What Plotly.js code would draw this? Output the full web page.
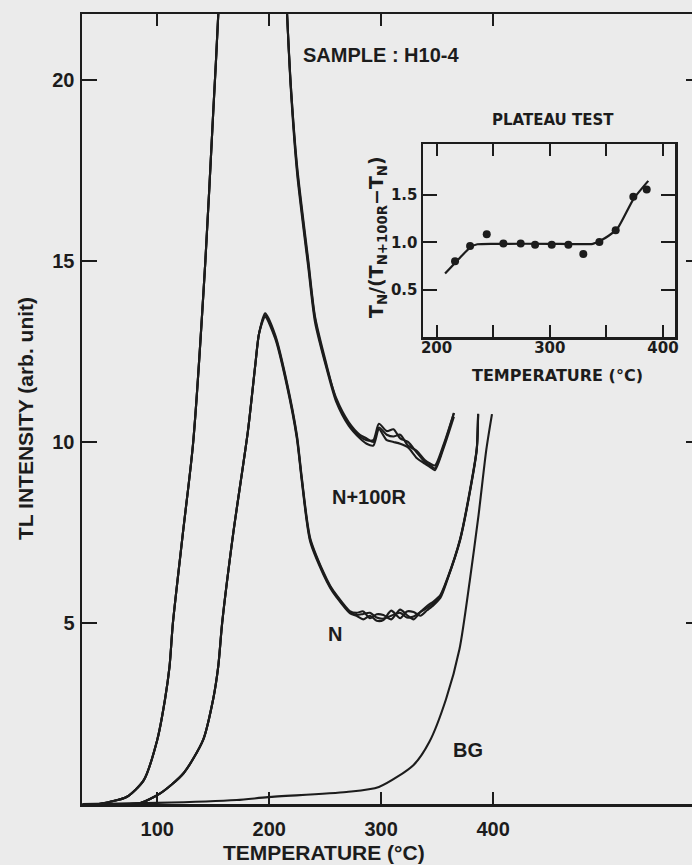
<!DOCTYPE html>
<html>
<head>
<meta charset="utf-8">
<script src="https://cdn.plot.ly/plotly-3.0.1.min.js"></script>
<style>
html,body{margin:0;padding:0;overflow:hidden;background:#ebebeb;}
#chart{width:720px;height:865px;}
</style>
</head>
<body>
<div id="chart"></div>
<script>
// ---------- main glow curves (temperature in °C, TL intensity arb. unit) ----------
const tempNR = [48, 58, 73, 88, 100, 107, 111, 114, 123, 132, 143, 150, 154.5, 160, 170, 185, 200, 210, 216, 219, 225, 235, 241, 251.5, 260, 271, 281, 287, 293, 298, 305, 311, 317, 324, 332, 339, 344, 348, 356, 365];
const intNR_1 = [0, 0.06, 0.2, 0.66, 1.77, 2.9, 3.8, 5.0, 7.5, 9.95, 15.0, 19.1, 21.8, 27, 33, 36, 32, 26, 21.8, 20.0, 17.6, 15.0, 13.45, 12.1, 11.15, 10.5, 10.15, 10.05, 10.05, 10.5, 10.3, 10.35, 10.1, 10.0, 9.7, 9.45, 9.35, 9.27, 9.9, 10.8];
const intNR_2 = [0, 0.06, 0.2, 0.66, 1.77, 2.9, 3.8, 5.0, 7.5, 9.95, 15.0, 19.1, 21.8, 27, 33, 36, 32, 26, 21.8, 19.9, 17.4, 14.8, 13.3, 12.0, 11.1, 10.45, 10.1, 9.95, 9.9, 10.35, 10.05, 10.0, 9.95, 9.85, 9.55, 9.4, 9.3, 9.22, 9.85, 10.7];
const intNR_3 = [0, 0.06, 0.2, 0.66, 1.77, 2.9, 3.8, 5.0, 7.5, 9.95, 15.0, 19.1, 21.8, 27, 33, 36, 32, 26, 21.8, 20.0, 17.5, 14.9, 13.4, 12.05, 11.2, 10.55, 10.2, 10.1, 10.0, 10.4, 10.2, 10.15, 10.2, 9.9, 9.75, 9.5, 9.4, 9.35, 9.95, 10.8];

const tempN = [70, 85, 103, 123.5, 141, 150, 154.5, 158, 168, 181, 187.5, 191, 196.4, 205.4, 215.8, 224.7, 229.2, 236.6, 248.5, 254.5, 260.4, 272, 278, 284, 290, 296, 302, 309, 317, 323, 329, 335, 341, 347, 353, 359, 370.5, 379.5, 385.4, 386.6];
const intN_1 = [0, 0.03, 0.3, 0.85, 1.77, 2.9, 3.8, 5.0, 7.5, 10.3, 12.1, 13.0, 13.5, 12.9, 11.6, 10.15, 8.95, 7.3, 6.37, 6.0, 5.73, 5.3, 5.22, 5.25, 5.28, 5.15, 5.12, 5.2, 5.28, 5.15, 5.18, 5.3, 5.42, 5.55, 5.75, 6.2, 7.3, 8.67, 9.8, 10.77];
const intN_2 = [0, 0.03, 0.3, 0.85, 1.77, 2.9, 3.8, 5.0, 7.5, 10.3, 12.1, 13.0, 13.45, 12.85, 11.55, 10.1, 8.9, 7.25, 6.33, 5.97, 5.7, 5.27, 5.2, 5.1, 5.2, 5.06, 5.08, 5.34, 5.13, 5.32, 5.3, 5.2, 5.35, 5.5, 5.7, 6.18, 7.28, 8.65, 9.78, 10.75];
const intN_3 = [0, 0.03, 0.3, 0.85, 1.77, 2.9, 3.8, 5.0, 7.5, 10.3, 12.1, 13.0, 13.55, 12.95, 11.65, 10.2, 9.0, 7.35, 6.4, 6.03, 5.76, 5.33, 5.28, 5.32, 5.13, 5.24, 5.22, 5.1, 5.37, 5.22, 5.1, 5.3, 5.47, 5.6, 5.78, 6.22, 7.32, 8.7, 9.82, 10.78];

const tempBG = [33, 100, 171, 199, 269, 298, 329, 343, 358, 370, 379, 387, 394, 399];
const intBG  = [0, 0.03, 0.11, 0.19, 0.33, 0.47, 1.08, 1.71, 2.9, 4.28, 6.13, 7.98, 9.8, 10.77];

// ---------- inset: plateau test ----------
const plateauT     = [216.3, 229.6, 244.3, 259, 274.3, 287, 301.7, 316.4, 329.6, 343.8, 358.2, 373.8, 385.6];
const plateauRatio = [0.80, 0.963, 1.086, 0.988, 0.988, 0.974, 0.974, 0.974, 0.876, 1.005, 1.128, 1.483, 1.56];
const fitT     = [207.5, 220, 230, 236, 250, 300, 338, 345, 352, 360, 374, 387];
const fitRatio = [0.67, 0.83, 0.95, 0.98, 0.985, 0.985, 0.985, 1.02, 1.07, 1.15, 1.46, 1.65];

// tick labels
const mainXTicks = [100, 200, 300, 400];
const mainXText  = ['<b>100</b>', '<b>200</b>', '<b>300</b>', '<b>400</b>'];
const mainYTicks = [5, 10, 15, 20];
const mainYText  = ['<b>5</b>', '<b>10</b>', '<b>15</b>', '<b>20</b>'];
const insetXTicks = [200, 300, 400];
const insetXText  = ['<b>200</b>', '<b>300</b>', '<b>400</b>'];
const insetXMinor = [250, 350];
const insetYTicks = [0.5, 1.0, 1.5];
const insetYText  = ['<b>0.5</b>', '<b>1.0</b>', '<b>1.5</b>'];

const INK = '#1c1c1c';
const BG = '#ebebeb';
const FONT = 'Liberation Sans, Arial, sans-serif';
const IFONT = 'DejaVu Sans, sans-serif';

function curve(x, y) {
  return {x: x, y: y, type: 'scatter', mode: 'lines', xaxis: 'x', yaxis: 'y',
          line: {color: INK, width: 2.1, shape: 'spline', smoothing: 0.7},
          hoverinfo: 'skip', showlegend: false};
}

const traces = [
  curve(tempNR, intNR_1), curve(tempNR, intNR_2), curve(tempNR, intNR_3),
  curve(tempN, intN_1), curve(tempN, intN_2), curve(tempN, intN_3),
  curve(tempBG, intBG),
  {x: fitT, y: fitRatio, type: 'scatter', mode: 'lines', xaxis: 'x2', yaxis: 'y2',
   line: {color: INK, width: 2.2, shape: 'spline', smoothing: 0.5}, showlegend: false, hoverinfo: 'skip'},
  {x: plateauT, y: plateauRatio, type: 'scatter', mode: 'markers', xaxis: 'x2', yaxis: 'y2',
   marker: {color: INK, size: 8}, showlegend: false, hoverinfo: 'skip', cliponaxis: false}
];

// pixel helpers for layout positions (plot area 82..701 x 14..804)
const L = 82, R = 701, T = 14, B = 804;
function px(x) { return (x - L) / (R - L); }
function py(y) { return (B - y) / (B - T); }

function label(text, x, y, size, family, extra) {
  return Object.assign({text: '<b>' + text + '</b>', xref: 'paper', yref: 'paper', x: px(x), y: py(y),
    xanchor: 'center', yanchor: 'middle', showarrow: false,
    font: {size: size, family: family, color: INK}}, extra || {});
}

const layout = {
  width: 720, height: 865,
  margin: {l: L, r: 720 - R, t: T, b: 865 - B},
  paper_bgcolor: BG, plot_bgcolor: 'rgba(0,0,0,0)',
  font: {family: FONT, color: INK},
  xaxis: {
    range: [32.8, 585.7], tickvals: mainXTicks, ticktext: mainXText, ticks: 'inside', ticklen: 12, tickwidth: 2,
    tickcolor: INK, showline: true, linewidth: 2.5, linecolor: INK, mirror: 'allticks',
    showgrid: false, zeroline: false, tickfont: {size: 20, family: FONT, color: INK},
    ticklabelstandoff: 5
  },
  yaxis: {
    range: [0, 21.82], tickvals: mainYTicks, ticktext: mainYText, ticks: 'inside', ticklen: 15, tickwidth: 2,
    tickcolor: INK, showline: true, linewidth: 2.5, linecolor: INK, mirror: 'allticks',
    showgrid: false, zeroline: false, tickfont: {size: 20, family: FONT, color: INK},
    ticklabelstandoff: 1
  },
  xaxis2: {
    domain: [px(423), px(675)], anchor: 'y2', range: [188, 410.6],
    tickvals: insetXTicks, ticktext: insetXText, ticks: 'inside', ticklen: 12, tickwidth: 2,
    minor: {tickvals: insetXMinor, ticks: 'inside', ticklen: 12, tickwidth: 2, tickcolor: INK, showgrid: false},
    tickcolor: INK, showline: true, linewidth: 2.5, linecolor: INK, mirror: 'allticks',
    showgrid: false, zeroline: false, tickfont: {size: 15, family: IFONT, color: INK},
    ticklabelstandoff: -5
  },
  yaxis2: {
    domain: [py(337), py(144)], anchor: 'x2', range: [0, 2.04],
    tickvals: insetYTicks, ticktext: insetYText, ticks: 'inside', ticklen: 14, tickwidth: 2,
    tickcolor: INK, showline: true, linewidth: 2.5, linecolor: INK, mirror: 'allticks',
    showgrid: false, zeroline: false, tickfont: {size: 15, family: IFONT, color: INK},
    ticklabelstandoff: 0
  },
  annotations: [
    label('TL INTENSITY (arb. unit)', 25, 419, 21, FONT, {textangle: -90}),
    label('TEMPERATURE (°C)', 324, 853, 21, FONT),
    label('SAMPLE : H10-4', 301, 55, 20, FONT, {xanchor: 'left', x: px(301)}),
    label('N+100R', 369, 497, 20, FONT),
    label('N', 335, 634, 20, FONT),
    label('BG', 468, 750, 20, FONT),
    label('PLATEAU TEST', 553, 120, 15, IFONT),
    label('TEMPERATURE (°C)', 557, 375, 16, IFONT),
    label('T<sub>N</sub>/(T<sub>N+100R</sub>−T<sub>N</sub>)', 378, 237, 19, IFONT, {textangle: -90})
  ]
};

Plotly.newPlot('chart', traces, layout, {staticPlot: true, displayModeBar: false});
</script>
</body>
</html>
